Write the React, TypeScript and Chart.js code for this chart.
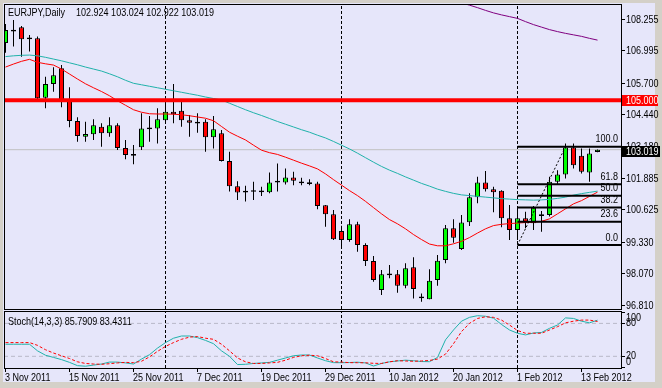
import React, { useEffect, useRef } from "react";
import { Chart, registerables } from "chart.js";

Chart.register(...registerables);

// ---------- data (EURJPY daily, 3 Nov 2011 .. 15 Feb 2012) ----------
const OPEN = [
  107.29, 107.80, 107.92, 107.47, 107.48, 105.10, 105.65, 106.28, 104.97, 104.17,
  103.54, 103.64, 103.94, 103.68, 104.00, 103.09, 102.83, 103.12, 103.86, 103.87,
  104.20, 104.54, 104.58, 104.20, 104.11, 104.14, 103.52, 103.68, 102.57, 101.56,
  101.35, 101.37, 101.34, 101.31, 101.73, 101.71, 101.91, 101.71, 101.71, 101.67,
  100.79, 100.43, 99.76, 99.40, 100.03, 99.20, 98.56, 97.40, 98.02, 98.03,
  97.57, 98.31, 97.11, 97.03, 97.80, 98.60, 99.87, 99.04, 100.11, 101.11,
  101.71, 101.44, 101.37, 100.27, 99.80, 100.27, 100.07, 100.39, 100.40, 101.74,
  102.03, 103.11, 102.78, 102.11, 102.924,
];
const HIGH = [
  108.05, 108.22, 107.97, 107.61, 107.55, 105.94, 106.32, 106.41, 105.52, 104.32,
  104.14, 104.24, 104.08, 104.32, 104.08, 103.41, 103.21, 104.48, 104.37, 104.68,
  105.01, 105.65, 104.94, 104.41, 104.48, 104.24, 104.37, 103.81, 102.94, 101.76,
  101.58, 101.74, 101.54, 102.11, 102.47, 102.27, 102.14, 101.90, 101.84, 101.74,
  100.80, 100.60, 99.97, 100.23, 100.13, 99.27, 98.76, 98.20, 98.40, 98.20,
  98.47, 98.71, 97.26, 98.23, 98.80, 100.00, 100.23, 100.40, 101.27, 101.94,
  102.17, 101.54, 101.40, 100.80, 100.64, 100.53, 100.76, 100.56, 101.94, 102.20,
  103.27, 103.27, 103.07, 103.07, 103.024,
];
const LOW = [
  106.90, 107.15, 106.74, 106.95, 105.03, 104.68, 105.34, 104.72, 103.92, 103.34,
  103.34, 103.41, 103.14, 103.54, 103.01, 102.64, 102.44, 103.01, 103.34, 103.27,
  104.08, 104.08, 103.94, 103.54, 103.70, 102.94, 103.07, 102.55, 101.34, 101.00,
  100.94, 101.00, 101.16, 101.27, 101.34, 101.63, 101.60, 101.60, 101.60, 100.63,
  99.93, 99.40, 99.16, 99.33, 98.93, 98.36, 97.73, 97.20, 97.87, 97.29,
  97.47, 97.06, 96.93, 97.03, 97.57, 98.47, 99.29, 99.00, 99.96, 100.87,
  101.34, 100.51, 99.91, 99.40, 99.40, 99.87, 99.80, 99.73, 100.34, 101.63,
  101.87, 102.27, 102.07, 101.74, 102.922,
];
const CLOSE = [
  107.81, 107.78, 107.44, 107.49, 105.08, 105.65, 106.00, 104.97, 104.17, 103.57,
  103.65, 104.00, 103.68, 104.00, 103.09, 102.81, 102.80, 103.87, 103.88, 104.24,
  104.54, 104.44, 104.20, 104.10, 104.09, 103.52, 103.84, 102.57, 101.56, 101.30,
  101.33, 101.36, 101.35, 101.71, 101.75, 101.91, 101.78, 101.72, 101.66, 100.76,
  100.43, 99.43, 99.40, 100.03, 99.20, 98.56, 97.80, 98.03, 98.04, 97.57,
  98.27, 97.44, 97.09, 97.77, 98.57, 99.87, 99.49, 100.10, 101.11, 101.71,
  101.44, 101.31, 100.27, 99.80, 100.27, 100.09, 100.69, 100.41, 101.74, 102.03,
  103.11, 102.40, 102.14, 102.87, 103.019,
];

const MA_RED = [
  106.33, 106.45, 106.56, 106.64, 106.52, 106.46, 106.41, 106.25, 106.05, 105.85,
  105.66, 105.50, 105.35, 105.18, 104.98, 104.80, 104.62, 104.52, 104.46, 104.45,
  104.45, 104.44, 104.42, 104.38, 104.33, 104.28, 104.18, 103.95, 103.72, 103.56,
  103.41, 103.20, 103.00, 102.90, 102.83, 102.72, 102.60, 102.48, 102.37, 102.25,
  102.05, 101.82, 101.60, 101.38, 101.18, 100.95, 100.70, 100.45, 100.22, 100.05,
  99.85, 99.62, 99.42, 99.24, 99.17, 99.17, 99.25, 99.35, 99.50, 99.68,
  99.85, 99.98, 100.03, 100.06, 100.08, 100.10, 100.11, 100.15, 100.25, 100.45,
  100.65, 100.85, 100.98, 101.15, 101.32,
];
const MA_TEAL = [
  106.75, 106.78, 106.80, 106.81, 106.78, 106.72, 106.65, 106.58, 106.50, 106.42,
  106.33, 106.25, 106.17, 106.06, 105.94, 105.80, 105.68, 105.62, 105.56, 105.50,
  105.44, 105.38, 105.32, 105.26, 105.20, 105.13, 105.07, 105.01, 104.88, 104.75,
  104.62, 104.50, 104.39, 104.27, 104.15, 104.04, 103.93, 103.82, 103.72, 103.60,
  103.49, 103.35, 103.20, 103.05, 102.88, 102.70, 102.52, 102.35, 102.20, 102.07,
  101.93, 101.80, 101.67, 101.56, 101.44, 101.35, 101.27, 101.21, 101.18, 101.15,
  101.12, 101.09, 101.06, 101.04, 101.02, 101.01, 101.00, 101.01, 101.03, 101.07,
  101.12, 101.20, 101.26, 101.31, 101.36,
];
const MA_PURPLE_START = 57;
const MA_PURPLE = [
  108.90, 108.81, 108.71, 108.60, 108.50, 108.42, 108.35, 108.28, 108.15, 108.03,
  107.93, 107.83, 107.75, 107.68, 107.62, 107.56, 107.48, 107.41,
];

const STOCH_MAIN = [
  42, 42, 42, 42, 30, 22, 18, 14, 9, 3,
  2, 4, 6, 9.5, 9.5, 8, 6, 15, 23, 35,
  45, 53, 57, 57, 54, 49, 43, 30, 20, 5,
  5.5, 7, 8, 9, 13, 17, 21, 22.4, 22.4, 17,
  12, 8.5, 8.4, 8.7, 9.3, 8, 2.4, 7, 10, 11.5,
  13, 12, 10.5, 10.2, 18, 50, 68, 84, 91, 94,
  93, 89.5, 78, 68, 62, 59, 62.5, 63.5, 71, 77,
  90, 89, 84, 81, 85.7909,
];
const STOCH_SIGNAL = [
  45, 45, 45, 45, 40, 32, 26, 21, 16, 10,
  7, 6, 5.5, 6.5, 8, 9, 8.4, 11, 19, 29,
  38, 45, 51, 55, 56, 53, 51, 42, 30, 17,
  10, 7, 7, 8, 9, 13, 18, 21, 22, 21,
  16, 10, 9.5, 8.5, 8.4, 8.2, 7.3, 7, 10, 12,
  11.5, 11, 11.5, 12.5, 15, 24, 43, 65, 80, 89,
  92, 91, 86, 77, 67, 62, 62, 62, 68, 74,
  81, 84, 86, 86, 83.4311,
];

const PRICE_TICKS = [108.255, 106.995, 105.7, 104.44, 103.18, 101.885, 100.625, 99.33, 98.07, 96.81];
const DATE_TICK_INDEX = [0, 8, 16, 24, 32, 40, 48, 56, 64, 72];
const DATE_LABELS = [
  "3 Nov 2011", "15 Nov 2011", "25 Nov 2011", "7 Dec 2011", "19 Dec 2011",
  "29 Dec 2011", "10 Jan 2012", "20 Jan 2012", "1 Feb 2012", "13 Feb 2012",
];
const SEPARATOR_INDEX = [20, 42, 64];
const H_LINE = 105.0;
const LAST_PRICE = 103.019;
const FIB_START = 64;
const FIB_DIAG_END = 70;
const FIB_LOW = 99.2;
const FIB_HIGH = 103.14;
const FIB_LEVELS = [0, 23.6, 38.2, 50, 61.8, 100];
const STOCH_LEVELS = [20, 80];
const STOCH_AXIS = [100, 80, 20, 0];
const SYMBOL = "EURJPY,Daily";
const OHLC_TEXT = "102.924 103.024 102.922 103.019";
const STOCH_TEXT = "Stoch(14,3,3) 85.7909 83.4311";

// ---------- layout / style ----------
const W = 662;
const H = 388;
const PLOT_LEFT = 4;
const PLOT_RIGHT = 621;
const MAIN_TOP = 4;
const MAIN_BOTTOM = 309;
const STOCH_TOP = 311;
const STOCH_BOTTOM = 368;
const X_MIN = -0.1875;
const X_MAX = 76.9375;
const Y_MIN = 96.638;
const Y_MAX = 108.856;
const S_MIN = -1.27;
const S_MAX = 102.55;
const FONT = "11px 'Liberation Sans', Arial, sans-serif";
const TEXT_SCALE_X = 0.82;
const BG_OUT = "#D4D0C8";
const BG_IN = "#E6E6FA";
const TEAL = "#20B2AA";
const RED = "#FF0000";
const GREEN = "#00FF00";
const PURPLE = "#800080";

const IDX = OPEN.map((_, i) => i);

function seg(x0: number, y0: number, x1: number, y1: number) {
  return [{ x: x0, y: y0 }, { x: x1, y: y1 }];
}

function lineDs(data: any[], color: string, width: number, order: number, dash: number[] = []) {
  return {
    type: "line" as const,
    data,
    borderColor: color,
    borderWidth: width,
    borderDash: dash,
    pointRadius: 0,
    fill: false,
    tension: 0,
    order,
    clip: 0,
  };
}

function txt(ctx: CanvasRenderingContext2D, s: string, x: number, y: number, color = "#000", align: CanvasTextAlign = "left", base: CanvasTextBaseline = "middle") {
  ctx.save();
  ctx.font = FONT;
  ctx.fillStyle = color;
  ctx.textAlign = align;
  ctx.textBaseline = base;
  ctx.translate(x, y);
  ctx.scale(TEXT_SCALE_X, 1);
  ctx.fillText(s, 0, 0);
  ctx.restore();
}

const bgPlugin = {
  id: "mtBackground",
  beforeDraw(chart: any) {
    const ctx = chart.ctx as CanvasRenderingContext2D;
    ctx.save();
    ctx.fillStyle = BG_OUT;
    ctx.fillRect(0, 0, W, H);
    ctx.fillStyle = BG_IN;
    ctx.fillRect(3, 3, 652, 379);
    ctx.restore();
  },
};

const mainOverlay = {
  id: "mtMainOverlay",
  afterDraw(chart: any) {
    const ctx = chart.ctx as CanvasRenderingContext2D;
    const ys = chart.scales.y;
    ctx.save();
    ctx.strokeStyle = "#000";
    ctx.lineWidth = 1;
    ctx.strokeRect(PLOT_LEFT + 0.5, MAIN_TOP + 0.5, PLOT_RIGHT - PLOT_LEFT, MAIN_BOTTOM - MAIN_TOP);
    // right price axis
    PRICE_TICKS.forEach((v) => {
      const py = Math.round(ys.getPixelForValue(v)) + 0.5;
      ctx.beginPath();
      ctx.moveTo(PLOT_RIGHT, py);
      ctx.lineTo(PLOT_RIGHT + 4, py);
      ctx.stroke();
      txt(ctx, v.toFixed(3), PLOT_RIGHT + 5, py);
    });
    // horizontal line label
    const hy = ys.getPixelForValue(H_LINE);
    ctx.fillStyle = RED;
    ctx.fillRect(PLOT_RIGHT + 1, Math.round(hy) - 5, 36, 11);
    txt(ctx, H_LINE.toFixed(3), PLOT_RIGHT + 5, Math.round(hy) + 0.5, "#FFFFFF");
    // last price label
    const ly = ys.getPixelForValue(LAST_PRICE);
    ctx.fillStyle = "#000";
    ctx.fillRect(PLOT_RIGHT + 1, Math.round(ly) - 4, 38, 11);
    txt(ctx, LAST_PRICE.toFixed(3), PLOT_RIGHT + 5, Math.round(ly) + 1.5, "#FFFFFF");
    // fibonacci labels
    FIB_LEVELS.forEach((lv) => {
      const p = FIB_LOW + (lv / 100) * (FIB_HIGH - FIB_LOW);
      const py = ys.getPixelForValue(p);
      txt(ctx, lv.toFixed(1), PLOT_RIGHT - 3, py - 2, "#000", "right", "bottom");
    });
    // header
    txt(ctx, SYMBOL, 8, 13);
    txt(ctx, OHLC_TEXT, 76, 13);
    ctx.restore();
  },
};

const stochOverlay = {
  id: "mtStochOverlay",
  afterDraw(chart: any) {
    const ctx = chart.ctx as CanvasRenderingContext2D;
    const ys = chart.scales.y;
    const xs = chart.scales.x;
    ctx.save();
    ctx.strokeStyle = "#000";
    ctx.lineWidth = 1;
    ctx.strokeRect(PLOT_LEFT + 0.5, STOCH_TOP + 0.5, PLOT_RIGHT - PLOT_LEFT, STOCH_BOTTOM - STOCH_TOP);
    const labelShift: Record<number, number> = { 100: 5, 80: -1, 20: -1, 0: -6 };
    STOCH_AXIS.forEach((v) => {
      const py = Math.round(ys.getPixelForValue(v)) + 0.5;
      ctx.beginPath();
      ctx.moveTo(PLOT_RIGHT, py);
      ctx.lineTo(PLOT_RIGHT + 4, py);
      ctx.stroke();
      txt(ctx, String(v), PLOT_RIGHT + 5, py + (labelShift[v] || 0));
    });
    DATE_TICK_INDEX.forEach((i, k) => {
      const px = xs.getPixelForValue(i);
      const tx = Math.floor(px) + 0.5;
      ctx.beginPath();
      ctx.moveTo(tx, STOCH_BOTTOM);
      ctx.lineTo(tx, STOCH_BOTTOM + 4);
      ctx.stroke();
      txt(ctx, DATE_LABELS[k], Math.floor(px), 378);
    });
    txt(ctx, STOCH_TEXT, 8, 322);
    ctx.restore();
  },
};

function mainConfig(): any {
  const bodyColor = IDX.map((i) => {
    const d = CLOSE[i] - OPEN[i];
    if (Math.abs(d) < 0.06) return "#000000";
    return d > 0 ? GREEN : RED;
  });
  const minBody = 0.07;
  const bodies = IDX.map((i) => {
    let lo = Math.min(OPEN[i], CLOSE[i]);
    let hi = Math.max(OPEN[i], CLOSE[i]);
    if (hi - lo < minBody) {
      const m = (hi + lo) / 2;
      lo = m - minBody / 2;
      hi = m + minBody / 2;
    }
    return { x: i, y: [lo, hi] };
  });
  const wicks = IDX.map((i) => ({ x: i, y: [LOW[i], HIGH[i]] }));
  const datasets: any[] = [];
  SEPARATOR_INDEX.forEach((s) => datasets.push(lineDs(seg(s, Y_MIN, s, Y_MAX), "#000", 1, 20, [3, 2])));
  datasets.push(lineDs(seg(X_MIN, LAST_PRICE, X_MAX, LAST_PRICE), "#C0C0C0", 1, 19));
  datasets.push({
    type: "bar",
    data: wicks,
    backgroundColor: "#000",
    borderWidth: 0,
    barThickness: 1,
    grouped: false,
    inflateAmount: 0,
    order: 10,
  });
  datasets.push({
    type: "bar",
    data: bodies,
    backgroundColor: bodyColor,
    borderColor: "#000",
    borderWidth: 1,
    borderSkipped: false,
    barThickness: 5,
    grouped: false,
    inflateAmount: 0,
    order: 9,
  });
  datasets.push(lineDs(IDX.map((i) => ({ x: i, y: MA_TEAL[i] })), TEAL, 1, 6));
  datasets.push(lineDs(IDX.map((i) => ({ x: i, y: MA_RED[i] })), RED, 1, 5));
  datasets.push(lineDs(MA_PURPLE.map((v, k) => ({ x: MA_PURPLE_START + k, y: v })), PURPLE, 1, 5));
  FIB_LEVELS.forEach((lv) => {
    const p = FIB_LOW + (lv / 100) * (FIB_HIGH - FIB_LOW);
    datasets.push(lineDs(seg(FIB_START, p, X_MAX, p), "#000", 2, 3));
  });
  datasets.push(lineDs(seg(FIB_START, FIB_LOW, FIB_DIAG_END, FIB_HIGH), "#000", 1, 3, [2, 2]));
  datasets.push(lineDs(seg(X_MIN, H_LINE, X_MAX, H_LINE), RED, 4, 1));
  return {
    type: "bar",
    data: { datasets },
    options: {
      responsive: false,
      animation: false,
      devicePixelRatio: 1,
      events: [],
      layout: { padding: { left: PLOT_LEFT, top: MAIN_TOP, right: W - PLOT_RIGHT, bottom: H - MAIN_BOTTOM } },
      scales: {
        x: { type: "linear", min: X_MIN, max: X_MAX, display: false, offset: false },
        y: { type: "linear", min: Y_MIN, max: Y_MAX, display: false, beginAtZero: false },
      },
      plugins: { legend: { display: false }, tooltip: { enabled: false } },
    },
    plugins: [bgPlugin, mainOverlay],
  };
}

function stochConfig(): any {
  const datasets: any[] = [];
  STOCH_LEVELS.forEach((lv) => datasets.push(lineDs(seg(X_MIN, lv, X_MAX, lv), "#B8B8C8", 1, 20, [4, 3])));
  SEPARATOR_INDEX.forEach((s) => datasets.push(lineDs(seg(s, S_MIN, s, S_MAX), "#000", 1, 19, [3, 2])));
  datasets.push(lineDs(IDX.map((i) => ({ x: i, y: STOCH_MAIN[i] })), TEAL, 1, 2));
  datasets.push(lineDs(IDX.map((i) => ({ x: i, y: STOCH_SIGNAL[i] })), RED, 1, 1, [3, 2]));
  return {
    type: "line",
    data: { datasets },
    options: {
      responsive: false,
      animation: false,
      devicePixelRatio: 1,
      events: [],
      layout: { padding: { left: PLOT_LEFT, top: STOCH_TOP, right: W - PLOT_RIGHT, bottom: H - STOCH_BOTTOM } },
      scales: {
        x: { type: "linear", min: X_MIN, max: X_MAX, display: false, offset: false },
        y: { type: "linear", min: S_MIN, max: S_MAX, display: false },
      },
      plugins: { legend: { display: false }, tooltip: { enabled: false } },
    },
    plugins: [stochOverlay],
  };
}

export default function App() {
  const mainRef = useRef<HTMLCanvasElement>(null);
  const stochRef = useRef<HTMLCanvasElement>(null);
  useEffect(() => {
    const c1 = new Chart(mainRef.current as HTMLCanvasElement, mainConfig());
    const c2 = new Chart(stochRef.current as HTMLCanvasElement, stochConfig());
    return () => {
      c1.destroy();
      c2.destroy();
    };
  }, []);
  return (
    <div style={{ position: "fixed", left: 0, top: 0, width: W, height: H }}>
      <canvas ref={mainRef} width={W} height={H} style={{ position: "absolute", left: 0, top: 0 }} />
      <canvas ref={stochRef} width={W} height={H} style={{ position: "absolute", left: 0, top: 0 }} />
    </div>
  );
}
